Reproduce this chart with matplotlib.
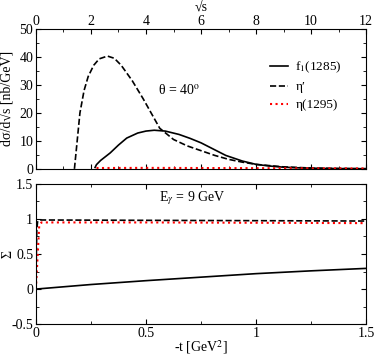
import numpy as np
import matplotlib.pyplot as plt
from matplotlib.ticker import MultipleLocator

plt.rcParams['font.family'] = ['Liberation Serif', 'DejaVu Serif']
plt.rcParams['mathtext.fontset'] = 'stix'
plt.rcParams['font.size'] = 10

# top panel: dsigma/dsqrt(s) vs sqrt(s), theta = 40 deg
etap_x = [1.4, 1.5, 1.6, 1.75, 1.9, 2.1, 2.3, 2.6, 2.85, 3.1, 3.5, 3.9, 4.5,
          5.0, 5.5, 6.0, 6.5, 7.0, 7.5, 8.0, 9.0, 10.0, 11.0, 12.0]
etap_y = [0.0, 10.0, 20.0, 28.0, 33.0, 37.0, 39.3, 40.3, 39.5, 37.0, 31.5, 25.0, 14.5,
          10.5, 8.2, 6.5, 4.8, 3.4, 2.4, 1.6, 0.7, 0.3, 0.12, 0.05]
f1_x = [2.15, 2.2, 2.35, 2.7, 3.0, 3.3, 3.7, 4.0, 4.3, 4.7, 5.2, 5.6, 6.0,
        6.5, 6.9, 7.5, 8.0, 8.5, 9.0, 9.6, 10.5, 11.0, 12.0]
f1_y = [0.5, 1.5, 3.0, 5.7, 8.5, 11.0, 12.8, 13.5, 13.8, 13.5, 12.3, 10.9, 9.3,
        6.8, 4.8, 2.8, 1.6, 1.0, 0.6, 0.35, 0.15, 0.1, 0.05]
eta1295_x = [2.2, 4.0, 6.0, 8.0, 10.0, 12.0]
eta1295_y = [0.3, 0.35, 0.3, 0.25, 0.2, 0.15]

# bottom panel: beam asymmetry Sigma vs -t, E_gamma = 9 GeV
sig_f1_t = [0.0, 0.25, 0.5, 0.75, 1.0, 1.25, 1.5]
sig_f1 = [0.0, 0.065, 0.12, 0.17, 0.22, 0.26, 0.295]
sig_etap_t = [0.0, 0.002, 0.004, 0.008, 0.02, 0.5, 1.0, 1.5]
sig_etap = [0.0, 0.5, 0.85, 0.97, 0.985, 0.98, 0.975, 0.97]
sig_eta_t = [0.0, 0.005, 0.01, 0.015, 0.025, 0.5, 1.0, 1.5]
sig_eta = [0.0, 0.3, 0.6, 0.9, 0.95, 0.95, 0.945, 0.94]

fig = plt.figure(figsize=(3.74, 3.57), dpi=100)
ax1 = fig.add_axes([0.096, 0.527, 0.883, 0.392])
ax2 = fig.add_axes([0.096, 0.092, 0.883, 0.393])

ax1.plot(f1_x, f1_y, '-k', linewidth=1.2, label=r'f$_1$(1285)')
ax1.plot(etap_x, etap_y, '--k', linewidth=1.2, label='\u03b7\u2032')
ax1.plot(eta1295_x, eta1295_y, ':', color='red', linewidth=1.5, label='\u03b7(1295)')
ax1.set_xlim(0, 12)
ax1.set_ylim(0, 50)
ax1.xaxis.set_major_locator(MultipleLocator(2))
ax1.xaxis.set_minor_locator(MultipleLocator(1))
ax1.yaxis.set_major_locator(MultipleLocator(10))
ax1.yaxis.set_minor_locator(MultipleLocator(5))
ax1.tick_params(which='both', direction='in', top=True, right=True,
                labeltop=True, labelbottom=False, pad=2)
ax1.tick_params(axis='x', pad=1)
ax1.xaxis.set_label_position('top')
ax1.set_xlabel('\u221as')
ax1.xaxis.set_label_coords(0.5, 1.125)
ax1.set_ylabel('d\u03c3/d\u221as [nb/GeV]')
ax1.yaxis.set_label_coords(-0.064, 0.5)
ax1.text(5.2, 28.2, '\u03b8 = 40$^{\\rm o}$', ha='center', va='center')
ax1.legend(loc='upper left', bbox_to_anchor=(0.71, 0.78), frameon=False,
           handlelength=1.3, handletextpad=0.6, labelspacing=0.45,
           borderpad=0, borderaxespad=0, fontsize=9.5)

ax2.plot(sig_f1_t, sig_f1, '-k', linewidth=1.2)
ax2.plot(sig_etap_t, sig_etap, '--k', linewidth=1.2)
ax2.plot(sig_eta_t, sig_eta, ':', color='red', linewidth=1.5)
ax2.set_xlim(0, 1.5)
ax2.set_ylim(-0.5, 1.5)
ax2.set_xticks([0, 0.5, 1, 1.5])
ax2.set_xticklabels(['0', '0.5', '1', '1.5'])
ax2.set_yticks([-0.5, 0, 0.5, 1, 1.5])
ax2.set_yticklabels(['-0.5', '0', '0.5', '1', '1.5'])
ax2.xaxis.set_minor_locator(MultipleLocator(0.25))
ax2.yaxis.set_minor_locator(MultipleLocator(0.25))
ax2.tick_params(which='both', direction='in', top=True, right=True, pad=2)
ax2.set_xlabel('-t [GeV$^2$]')
ax2.xaxis.set_label_coords(0.5, -0.1)
ax2.set_ylabel('\u03a3')
ax2.yaxis.set_label_coords(-0.064, 0.5)
ax2.text(0.71, 1.29, 'E$_\\gamma$ = 9 GeV', ha='center', va='center')

fig.savefig('out.png', dpi=100)
